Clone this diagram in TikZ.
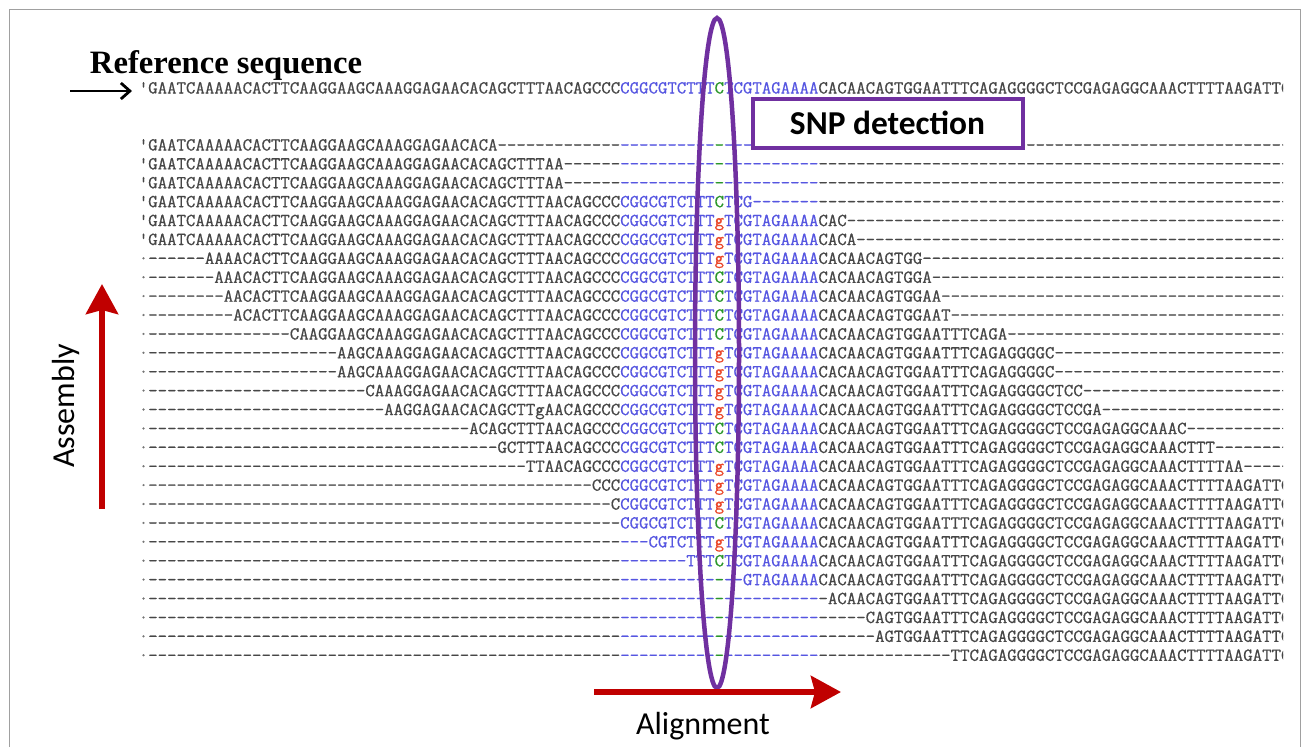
\documentclass[tikz,border=0pt]{standalone}
\usepackage{fontspec}
\usetikzlibrary{arrows.meta,shapes.geometric}
\newfontfamily\calibri{Carlito}
\newfontfamily\refserif{Liberation Serif}
\newfontfamily\seqmono{lmmono12-regular.otf}[FakeBold=0.6, Ligatures=TeXOff]

\definecolor{seqgray}{RGB}{70,70,70}
\definecolor{seqblue}{RGB}{85,85,225}
\definecolor{snpgreen}{RGB}{40,150,40}
\definecolor{snpred}{RGB}{235,70,40}
\definecolor{markpurple}{RGB}{112,48,160}
\definecolor{arrowred}{RGB}{192,0,0}
\definecolor{framegray}{RGB}{160,160,160}

% gap runs: one hyphen per column, kerns keep hyphens from merging
\newcount\dashcount
\newcommand\dashes[1]{\dashcount=#1\relax
  \loop\ifnum\dashcount>0 -\kern0pt\advance\dashcount by -1\relax\repeat}

\newcommand\Sg[1]{\textcolor{seqgray}{#1}}
\newcommand\Sb[1]{\textcolor{seqblue}{#1}}
\newcommand\Sc{\textcolor{snpgreen}{C}}
\newcommand\Sr{\textcolor{snpred}{g}}
\newcommand\Dg[1]{\textcolor{seqgray}{\dashes{#1}}}
\newcommand\Db[1]{\textcolor{seqblue}{\dashes{#1}}}
\newcommand\Dc{\textcolor{snpgreen}{-}}
\newcommand\Qm{\textcolor{seqgray}{\textquotesingle}}
\newcommand\Pm{\textcolor{seqgray!75}{·}}

% reference pieces: columns 1-50, 51-60, 62-71, 72-121
\newcommand\seqA{GAATCAAAAACACTTCAAGGAAGCAAAGGAGAACACAGCTTTAACAGCCC}
\newcommand\seqBa{CGGCGTCTTT}
\newcommand\seqBb{TCGTAGAAAA}
\newcommand\seqC{CACAACAGTGGAATTTCAGAGGGGCTCCGAGAGGCAAACTTTTAAGATTC}

\newcommand\seqfont{\seqmono\fontsize{18.33}{20}\selectfont}

\tikzset{
  seqrow/.style={anchor=base west, inner sep=0pt, font=\seqfont},
  redarrow/.style={draw=arrowred, line width=6pt,
    -{Stealth[length=30pt, width=32pt, inset=4pt]}},
  labeltext/.style={inner sep=0pt, font=\calibri\fontsize{32}{36}\selectfont},
}

\begin{document}
\begin{tikzpicture}[x=1pt, y=-1pt]
\useasboundingbox (0,0) rectangle (1309,747);
\fill[white] (0,0) rectangle (1309,747);
\draw[framegray, line width=1pt] (9.5,747) -- (9.5,9.5) -- (1300.5,9.5) -- (1300.5,747);

\node[inner sep=0pt, anchor=center] (reftitle) at (226,65)
  {\resizebox{272pt}{!}{\refserif\bfseries Reference sequence}};
\coordinate (refarrowtail) at (70,91);
\coordinate (refarrowtip) at (132,91);
\draw[line width=2.8pt, -{Straight Barb[length=9pt, width=16pt]}] (refarrowtail) -- (refarrowtip);

\begin{scope}
\clip (130,70) rectangle (1283,670);
\node[seqrow] (ref) at (138.6,93.5) {\Qm\Sg{\seqA}\Sb{\seqBa}\Sc\Sb{\seqBb}\Sg{\seqC}};

\node[seqrow] (r1) at (138.6,150.5) {\Qm\Sg{GAATCAAAAACACTTCAAGGAAGCAAAGGAGAACACA}\Dg{13}\Db{10}\Dc\Db{10}\Dg{50}};
\node[seqrow] (r2) at (138.6,169.4) {\Qm\Sg{GAATCAAAAACACTTCAAGGAAGCAAAGGAGAACACAGCTTTAA}\Dg{6}\Db{10}\Dc\Db{10}\Dg{50}};
\node[seqrow] (r3) at (138.6,188.3) {\Qm\Sg{GAATCAAAAACACTTCAAGGAAGCAAAGGAGAACACAGCTTTAA}\Dg{6}\Db{10}\Dc\Db{10}\Dg{50}};
\node[seqrow] (r4) at (138.6,207.2) {\Qm\Sg{\seqA}\Sb{\seqBa}\Sc\Sb{TCG}\Db{7}\Dg{50}};
\node[seqrow] (r5) at (138.6,226.1) {\Qm\Sg{\seqA}\Sb{\seqBa}\Sr\Sb{\seqBb}\Sg{CAC}\Dg{47}};
\node[seqrow] (r6) at (138.6,245.0) {\Qm\Sg{\seqA}\Sb{\seqBa}\Sr\Sb{\seqBb}\Sg{CACA}\Dg{46}};
\node[seqrow] (r7) at (138.6,263.9) {\Pm\Dg{6}\Sg{AAAACACTTCAAGGAAGCAAAGGAGAACACAGCTTTAACAGCCC}\Sb{\seqBa}\Sr\Sb{\seqBb}\Sg{CACAACAGTGG}\Dg{39}};
\node[seqrow] (r8) at (138.6,282.8) {\Pm\Dg{7}\Sg{AAACACTTCAAGGAAGCAAAGGAGAACACAGCTTTAACAGCCC}\Sb{\seqBa}\Sc\Sb{\seqBb}\Sg{CACAACAGTGGA}\Dg{38}};
\node[seqrow] (r9) at (138.6,301.7) {\Pm\Dg{8}\Sg{AACACTTCAAGGAAGCAAAGGAGAACACAGCTTTAACAGCCC}\Sb{\seqBa}\Sc\Sb{\seqBb}\Sg{CACAACAGTGGAA}\Dg{37}};
\node[seqrow] (r10) at (138.6,320.6) {\Pm\Dg{9}\Sg{ACACTTCAAGGAAGCAAAGGAGAACACAGCTTTAACAGCCC}\Sb{\seqBa}\Sc\Sb{\seqBb}\Sg{CACAACAGTGGAAT}\Dg{36}};
\node[seqrow] (r11) at (138.6,339.5) {\Pm\Dg{15}\Sg{CAAGGAAGCAAAGGAGAACACAGCTTTAACAGCCC}\Sb{\seqBa}\Sc\Sb{\seqBb}\Sg{CACAACAGTGGAATTTCAGA}\Dg{30}};
\node[seqrow] (r12) at (138.6,358.4) {\Pm\Dg{20}\Sg{AAGCAAAGGAGAACACAGCTTTAACAGCCC}\Sb{\seqBa}\Sr\Sb{\seqBb}\Sg{CACAACAGTGGAATTTCAGAGGGGC}\Dg{25}};
\node[seqrow] (r13) at (138.6,377.3) {\Pm\Dg{20}\Sg{AAGCAAAGGAGAACACAGCTTTAACAGCCC}\Sb{\seqBa}\Sr\Sb{\seqBb}\Sg{CACAACAGTGGAATTTCAGAGGGGC}\Dg{25}};
\node[seqrow] (r14) at (138.6,396.2) {\Pm\Dg{23}\Sg{CAAAGGAGAACACAGCTTTAACAGCCC}\Sb{\seqBa}\Sr\Sb{\seqBb}\Sg{CACAACAGTGGAATTTCAGAGGGGCTCC}\Dg{22}};
\node[seqrow] (r15) at (138.6,415.1) {\Pm\Dg{25}\Sg{AAGGAGAACACAGCTTgAACAGCCC}\Sb{\seqBa}\Sr\Sb{\seqBb}\Sg{CACAACAGTGGAATTTCAGAGGGGCTCCGA}\Dg{20}};
\node[seqrow] (r16) at (138.6,434.0) {\Pm\Dg{34}\Sg{ACAGCTTTAACAGCCC}\Sb{\seqBa}\Sc\Sb{\seqBb}\Sg{CACAACAGTGGAATTTCAGAGGGGCTCCGAGAGGCAAAC}\Dg{11}};
\node[seqrow] (r17) at (138.6,452.9) {\Pm\Dg{37}\Sg{GCTTTAACAGCCC}\Sb{\seqBa}\Sc\Sb{\seqBb}\Sg{CACAACAGTGGAATTTCAGAGGGGCTCCGAGAGGCAAACTTT}\Dg{8}};
\node[seqrow] (r18) at (138.6,471.8) {\Pm\Dg{40}\Sg{TTAACAGCCC}\Sb{\seqBa}\Sr\Sb{\seqBb}\Sg{CACAACAGTGGAATTTCAGAGGGGCTCCGAGAGGCAAACTTTTAA}\Dg{5}};
\node[seqrow] (r19) at (138.6,490.7) {\Pm\Dg{47}\Sg{CCC}\Sb{\seqBa}\Sr\Sb{\seqBb}\Sg{\seqC}};
\node[seqrow] (r20) at (138.6,509.6) {\Pm\Dg{49}\Sg{C}\Sb{\seqBa}\Sr\Sb{\seqBb}\Sg{\seqC}};
\node[seqrow] (r21) at (138.6,528.5) {\Pm\Dg{50}\Sb{\seqBa}\Sc\Sb{\seqBb}\Sg{\seqC}};
\node[seqrow] (r22) at (138.6,547.4) {\Pm\Dg{50}\Db{3}\Sb{CGTCTTT}\Sr\Sb{\seqBb}\Sg{\seqC}};
\node[seqrow] (r23) at (138.6,566.3) {\Pm\Dg{50}\Db{7}\Sb{TTT}\Sc\Sb{\seqBb}\Sg{\seqC}};
\node[seqrow] (r24) at (138.6,585.2) {\Pm\Dg{50}\Db{10}\Dc\Db{2}\Sb{GTAGAAAA}\Sg{\seqC}};
\node[seqrow] (r25) at (138.6,604.1) {\Pm\Dg{50}\Db{10}\Dc\Db{10}\Dg{1}\Sg{ACAACAGTGGAATTTCAGAGGGGCTCCGAGAGGCAAACTTTTAAGATTC}};
\node[seqrow] (r26) at (138.6,623.0) {\Pm\Dg{50}\Db{10}\Dc\Db{10}\Dg{5}\Sg{CAGTGGAATTTCAGAGGGGCTCCGAGAGGCAAACTTTTAAGATTC}};
\node[seqrow] (r27) at (138.6,641.9) {\Pm\Dg{50}\Db{10}\Dc\Db{10}\Dg{6}\Sg{AGTGGAATTTCAGAGGGGCTCCGAGAGGCAAACTTTTAAGATTC}};
\node[seqrow] (r28) at (138.6,660.8) {\Pm\Dg{50}\Db{10}\Dc\Db{10}\Dg{14}\Sg{TTCAGAGGGGCTCCGAGAGGCAAACTTTTAAGATTC}};
\end{scope}

% SNP column marker and label box
\node[draw=markpurple, line width=4.5pt, ellipse, inner sep=0pt,
  minimum width=44pt, minimum height=670pt] (snpring) at (717,353) {};
\node[draw=markpurple, line width=4pt, fill=white, inner sep=0pt,
  minimum width=270pt, minimum height=49pt] (snpbox) at (887.5,123)
  {\resizebox{195pt}{!}{\calibri\bfseries SNP detection}};

% assembly direction
\coordinate (asmtail) at (102,509);
\coordinate (asmtip) at (102,284);
\draw[redarrow] (asmtail) -- (asmtip);
\node[labeltext, rotate=90] (asmlabel) at (66,406) {Assembly};

% alignment direction
\coordinate (alntail) at (594,692);
\coordinate (alntip) at (841,692);
\draw[redarrow] (alntail) -- (alntip);
\node[labeltext] (alnlabel) at (703,726) {Alignment};
\end{tikzpicture}
\end{document}
